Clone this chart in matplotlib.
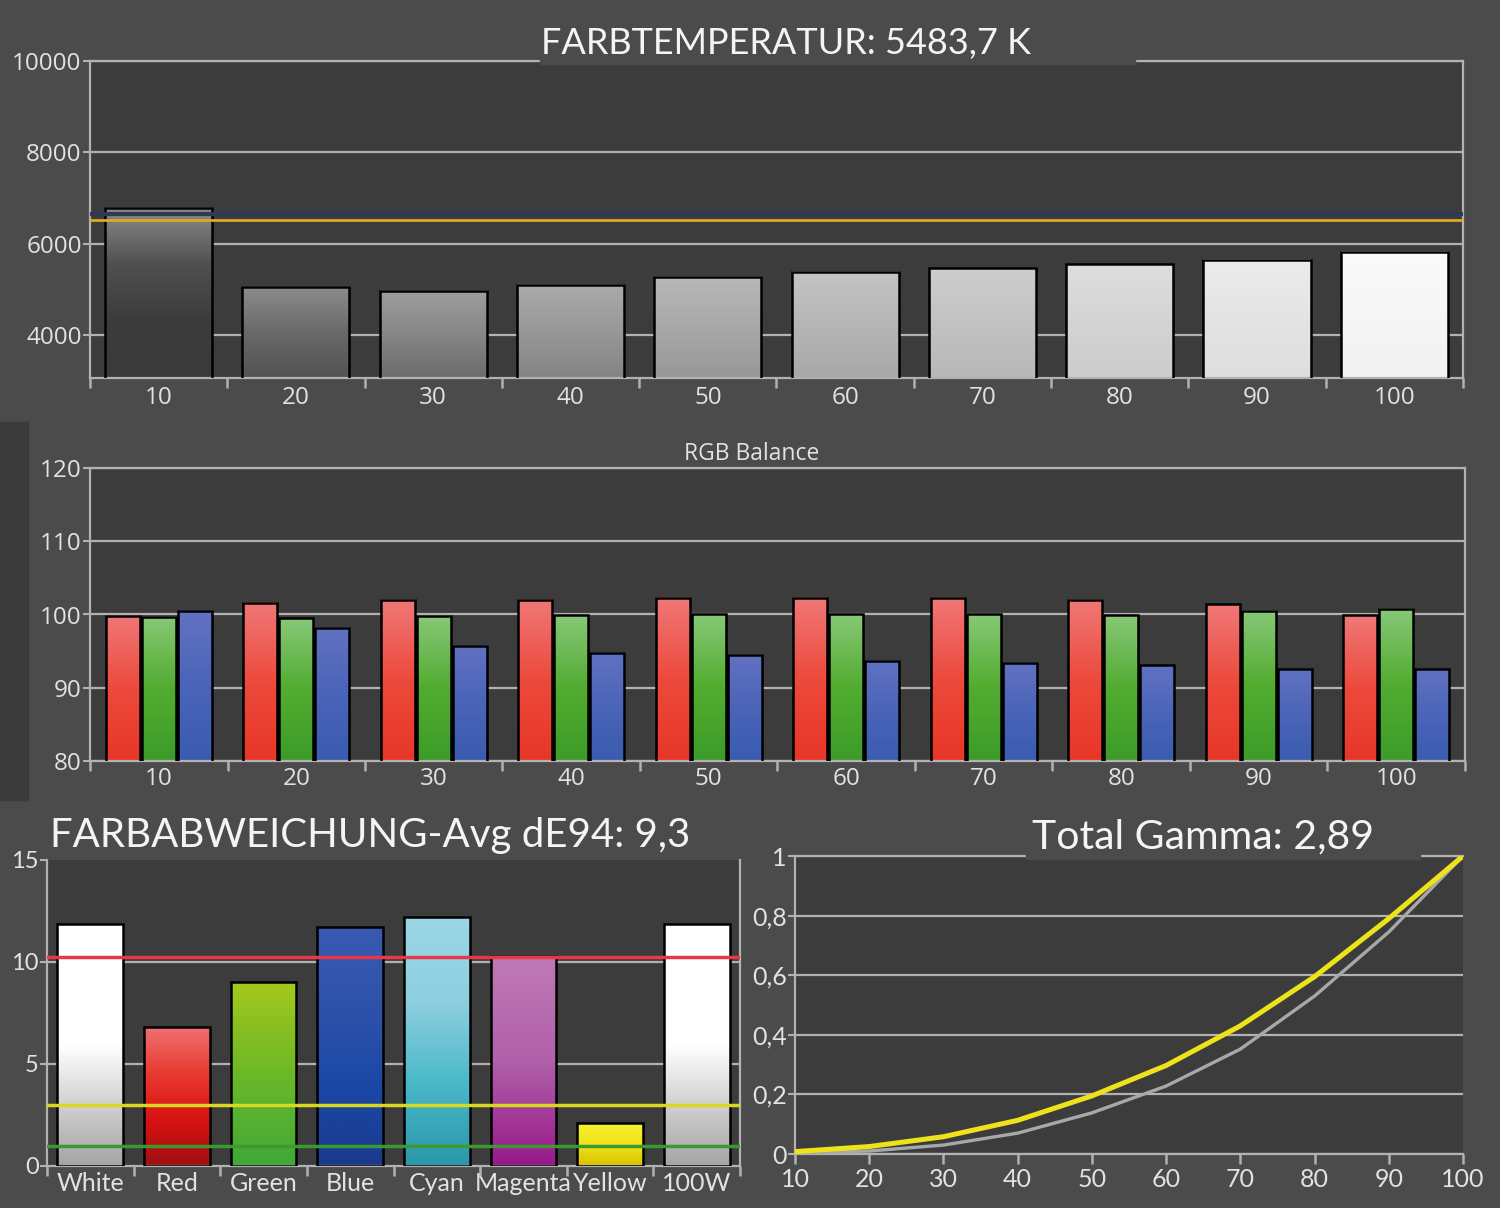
import numpy as np
import matplotlib
matplotlib.use('Agg')
import matplotlib.pyplot as plt
from matplotlib.colors import LinearSegmentedColormap
from matplotlib.patches import Rectangle

# ---- data ----
levels = ['10', '20', '30', '40', '50', '60', '70', '80', '90', '100']

cct_title = 'FARBTEMPERATUR: 5483,7 K'
cct = [6790, 5060, 4965, 5095, 5270, 5380, 5460, 5550, 5645, 5825]
cct_target = 6510
cct_shadow = 6655
cct_ticks = [4000, 6000, 8000, 10000]

rgb_title = 'RGB Balance'
rgb_ticks = [80, 90, 100, 110, 120]
rgb_red = [99.8, 101.6, 102.0, 102.0, 102.3, 102.3, 102.3, 102.0, 101.4, 99.9]
rgb_green = [99.7, 99.5, 99.8, 99.9, 100.0, 100.0, 100.0, 99.9, 100.5, 100.8]
rgb_blue = [100.5, 98.2, 95.7, 94.8, 94.5, 93.7, 93.4, 93.1, 92.5, 92.5]

de_title = 'FARBABWEICHUNG-Avg dE94: 9,3'
de_names = ['White', 'Red', 'Green', 'Blue', 'Cyan', 'Magenta', 'Yellow', '100W']
de94 = [11.85, 6.8, 9.0, 11.7, 12.2, 10.3, 2.1, 11.85]
de_ticks = [0, 5, 10, 15]
de_red_limit = 10.25
de_yellow_limit = 3.0
de_green_limit = 1.0

gamma_title = 'Total Gamma: 2,89'
gamma_x = [10, 20, 30, 40, 50, 60, 70, 80, 90, 100]
gamma_target = [0.008, 0.025, 0.058, 0.113, 0.195, 0.297, 0.43, 0.595, 0.79, 1.0]
gamma_measured = [0.004, 0.01, 0.03, 0.07, 0.138, 0.228, 0.352, 0.53, 0.745, 1.0]
gamma_ticks = [0, 0.2, 0.4, 0.6, 0.8, 1.0]
gamma_labels = ['0', '0,2', '0,4', '0,6', '0,8', '1']

# ---- styling ----
BG = '#4b4b4b'
PANEL = '#3c3c3c'
LINE = '#b2b2b2'
TXT = '#e2e2e2'
SEGOE = ['Open Sans', 'DejaVu Sans']
CALIBRI = ['Lato', 'DejaVu Sans']

gray_stops = [
    ['#3a3a3a', '#3c3c3c', '#505050', '#8c8c8c'],
    ['#525252', '#6a6a6a', '#8c8c8c'],
    ['#6c6c6c', '#868686', '#9e9e9e'],
    ['#848484', '#989898', '#aaaaaa'],
    ['#989898', '#a8a8a8', '#b8b8b8'],
    ['#a8a8a8', '#b6b6b6', '#c4c4c4'],
    ['#b8b8b8', '#c2c2c2', '#cecece'],
    ['#cccccc', '#d4d4d4', '#dedede'],
    ['#dedede', '#e4e4e4', '#ececec'],
    ['#f2f2f2', '#f6f6f6', '#fafafa'],
]
red_stops = ['#e83628', '#ec4a3c', '#f07878']
green_stops = ['#3c9c28', '#52ac30', '#88c878']
blue_stops = ['#3a5cb0', '#4a64b8', '#6272c2']
white_stops = ['#a4a4a4', '#d0d0d0', '#ffffff', '#ffffff', '#ffffff']
de_stops = [
    white_stops,
    ['#a01010', '#d81212', '#e83a30', '#f07070'],
    ['#40a838', '#6cb828', '#a4c81c'],
    ['#1a3a8e', '#1a48a6', '#2e52aa', '#3a5ab2'],
    ['#2a98a8', '#4ab8c8', '#8ed0e0', '#9ad6e6'],
    ['#98188a', '#b060a8', '#c07ab8'],
    ['#d8c000', '#f0e418', '#f8f030'],
    white_stops,
]

plt.rcParams['font.family'] = SEGOE

fig = plt.figure(figsize=(15, 12.08), dpi=100, facecolor=BG)
fig.patches.append(Rectangle((0, 1 - 800 / 1208), 28 / 1500, 378 / 1208,
                             transform=fig.transFigure, color='#3b3b3b', zorder=0))


def paint(ax, bars, stops_list, ylo):
    grad = np.linspace(0, 1, 256).reshape(-1, 1)
    for bar, stops in zip(bars, stops_list):
        x, w = bar.get_x(), bar.get_width()
        top = bar.get_y() + bar.get_height()
        cmap = LinearSegmentedColormap.from_list('bar', stops)
        ax.imshow(grad, cmap=cmap, origin='lower', aspect='auto', interpolation='bilinear',
                  extent=(x, x + w, max(bar.get_y(), ylo), top), zorder=2)
        bar.set_facecolor('none')


def frame(ax, top=True, right=True):
    ax.set_facecolor(PANEL)
    for side, sp in ax.spines.items():
        sp.set_color(LINE)
        sp.set_linewidth(1.6)
    ax.spines['top'].set_visible(top)
    ax.spines['right'].set_visible(right)
    ax.tick_params(axis='y', length=5, width=1.5, color=LINE, labelcolor=TXT, pad=1)
    ax.tick_params(axis='x', labelcolor=TXT)


def categories(ax, labels, font, size, pad):
    n = len(labels)
    ax.set_xlim(-0.5, n - 0.5)
    ax.set_xticks(range(n))
    ax.set_xticklabels(labels, fontsize=size, family=font)
    ax.set_xticks(np.arange(n + 1) - 0.5, minor=True)
    ax.tick_params(axis='x', which='major', length=0, pad=pad)
    ax.tick_params(axis='x', which='minor', length=7, width=1.8, color=LINE)


def gap(ax, x0, x1):
    ax.add_patch(Rectangle((x0, 0.99), x1 - x0, 0.08, transform=ax.transAxes,
                           color=BG, clip_on=False, zorder=5))


# ---- colour temperature ----
ax1 = fig.add_axes([0.06, 0.6871, 0.9153, 0.2624])
frame(ax1)
x = np.arange(len(levels))
bars = ax1.bar(x, cct, width=0.78, edgecolor='black', linewidth=1.8, zorder=3)
paint(ax1, bars, gray_stops, 3058)
ax1.axhline(cct_shadow, color='#2c3a58', lw=3, zorder=4)
ax1.axhline(cct_target, color='#e0a820', lw=2, zorder=4)
ax1.set_ylim(3058, 10000)
ax1.set_yticks(cct_ticks)
ax1.set_yticklabels([str(v) for v in cct_ticks], fontsize=17.5)
ax1.yaxis.grid(True, color=LINE, lw=1.6)
ax1.set_axisbelow(True)
categories(ax1, levels, SEGOE, 17.5, 6)
gap(ax1, 0.3277, 0.761)
fig.text(541 / 1500, 1 - 54 / 1208, cct_title, ha='left', va='baseline',
         fontsize=26, family=CALIBRI, color='#f4f4f4')

# ---- RGB balance ----
ax2 = fig.add_axes([0.06, 1 - 761 / 1208, 1375 / 1500, 293 / 1208])
frame(ax2)
off = 0.262
rb = ax2.bar(x - off, rgb_red, width=0.25, edgecolor='black', linewidth=1.8, zorder=3)
gb = ax2.bar(x, rgb_green, width=0.25, edgecolor='black', linewidth=1.8, zorder=3)
bb = ax2.bar(x + off, rgb_blue, width=0.25, edgecolor='black', linewidth=1.8, zorder=3)
paint(ax2, rb, [red_stops] * len(x), 80)
paint(ax2, gb, [green_stops] * len(x), 80)
paint(ax2, bb, [blue_stops] * len(x), 80)
ax2.set_ylim(80, 120)
ax2.set_yticks(rgb_ticks)
ax2.set_yticklabels([str(v) for v in rgb_ticks], fontsize=17.5)
ax2.yaxis.grid(True, color=LINE, lw=1.6)
ax2.set_axisbelow(True)
categories(ax2, levels, SEGOE, 17.5, 4)
fig.text(752 / 1500, 1 - 460 / 1208, rgb_title, ha='center', va='baseline',
         fontsize=16.5, color=TXT)

# ---- colour deviation dE94 ----
ax3 = fig.add_axes([47 / 1500, 1 - 1166 / 1208, 693 / 1500, 306 / 1208])
frame(ax3, top=False)
xd = np.arange(len(de_names))
dbars = ax3.bar(xd, de94, width=0.76, edgecolor='black', linewidth=1.8, zorder=3)
paint(ax3, dbars, de_stops, 0)
for t in de_ticks[1:-1]:
    ax3.axhline(t, color=LINE, lw=1.6, zorder=1)
ax3.axhline(de_red_limit, color='#e83848', lw=2.5, zorder=4)
ax3.axhline(de_yellow_limit, color='#d8d820', lw=2.5, zorder=4)
ax3.axhline(de_green_limit, color='#3a9a30', lw=2.5, zorder=4)
ax3.set_ylim(0, 15)
ax3.set_yticks(de_ticks)
ax3.set_yticklabels([str(v) for v in de_ticks], fontsize=17, family=CALIBRI)
categories(ax3, de_names, CALIBRI, 18, 4)
fig.text(50 / 1500, 1 - 847 / 1208, de_title, ha='left', va='baseline',
         fontsize=29, family=CALIBRI, color='#f4f4f4')

# ---- gamma ----
ax4 = fig.add_axes([795 / 1500, 1 - 1154 / 1208, 668 / 1500, 298 / 1208])
frame(ax4, right=False)
ax4.plot(gamma_x, gamma_measured, color='#a8a8a8', lw=2.4, zorder=3)
ax4.plot(gamma_x, gamma_target, color='#eee21a', lw=3.6, zorder=4)
ax4.set_xlim(10, 100)
ax4.set_ylim(0, 1)
ax4.set_yticks(gamma_ticks)
ax4.set_yticklabels(gamma_labels, fontsize=18, family=CALIBRI)
ax4.set_xticks(gamma_x)
ax4.set_xticklabels([str(v) for v in gamma_x], fontsize=18, family=CALIBRI)
ax4.tick_params(axis='x', length=7, width=1.8, color=LINE, pad=3)
ax4.yaxis.grid(True, color=LINE, lw=1.6)
ax4.set_axisbelow(True)
gap(ax4, 0.346, 0.936)
fig.text(1032 / 1500, 1 - 848 / 1208, gamma_title, ha='left', va='baseline',
         fontsize=29.5, family=CALIBRI, color='#f4f4f4')

fig.savefig('out.png', dpi=100, facecolor=BG)
